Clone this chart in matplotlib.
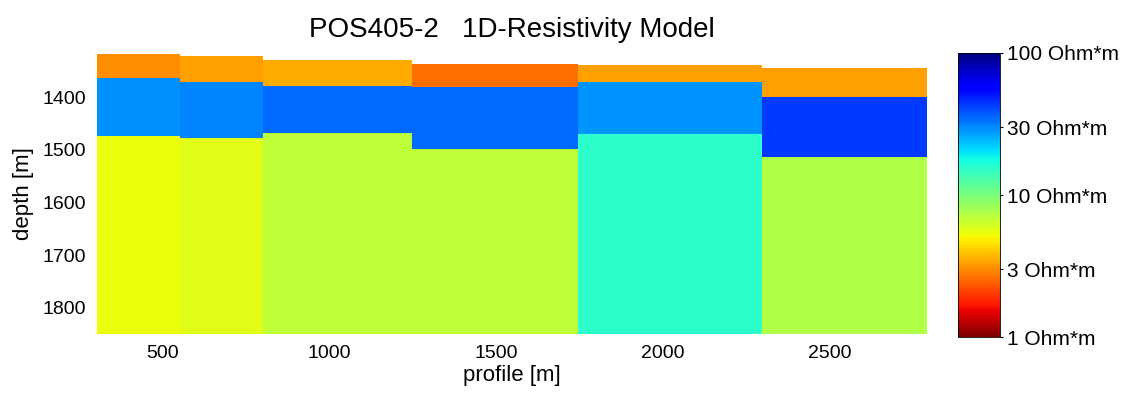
import numpy as np
from matplotlib import pyplot as plt
from matplotlib.colors import LogNorm

plt.rcParams['font.family'] = ['Liberation Sans', 'DejaVu Sans']

# block edges along the profile [m]
edges = [305, 555, 803, 1249, 1746, 2296, 2790]
# layer boundaries [m depth] per block
tops = [1318, 1322, 1329, 1337, 1339, 1345]
z1 = [1364, 1371, 1379, 1381, 1371, 1400]
z2 = [1474, 1477, 1468, 1498, 1470, 1513]
base = 1850
# resistivities [Ohm*m]
rho1 = [3.0, 3.3, 3.5, 2.6, 3.3, 3.3]
rho2 = [29, 31, 35, 35, 28.5, 43]
rho3 = [5.4, 5.7, 6.9, 6.9, 15.5, 7.4]

cb_ticks = [1, 3, 10, 30, 100]
cb_labels = ["1 Ohm*m", "3 Ohm*m", "10 Ohm*m", "30 Ohm*m", "100 Ohm*m"]

fig = plt.figure(figsize=(11.24, 3.98), dpi=100)
ax = fig.add_axes([0.0863, 0.161, 0.7384, 0.703])
norm = LogNorm(vmin=1, vmax=100)

for i in range(len(tops)):
	xe = [edges[i], edges[i + 1]]
	ye = [tops[i], z1[i], z2[i], base]
	C = np.array([[rho1[i]], [rho2[i]], [rho3[i]]])
	m = ax.pcolormesh(xe, ye, C, cmap='jet_r', norm=norm, shading='flat')

ax.set_xlim(edges[0], edges[-1])
ax.set_ylim(base, tops[0])
ax.set_xticks([500, 1000, 1500, 2000, 2500])
ax.set_yticks([1400, 1500, 1600, 1700, 1800])
ax.tick_params(labelsize=14, length=0, pad=8)
for s in ax.spines.values():
	s.set_visible(False)
ax.set_xlabel("profile [m]", fontsize=16, labelpad=2)
ax.set_ylabel("depth [m]", fontsize=16, labelpad=6)
ax.set_title("POS405-2   1D-Resistivity Model", fontsize=20, pad=12)

cax = fig.add_axes([0.852, 0.153, 0.0374, 0.714])
cb = fig.colorbar(m, cax=cax)
cb.set_ticks(cb_ticks)
cb.set_ticklabels(cb_labels)
cb.ax.minorticks_off()
cb.ax.tick_params(labelsize=15, length=2, pad=3)
cb.outline.set_linewidth(0.6)

fig.savefig("out.png", dpi=100)
